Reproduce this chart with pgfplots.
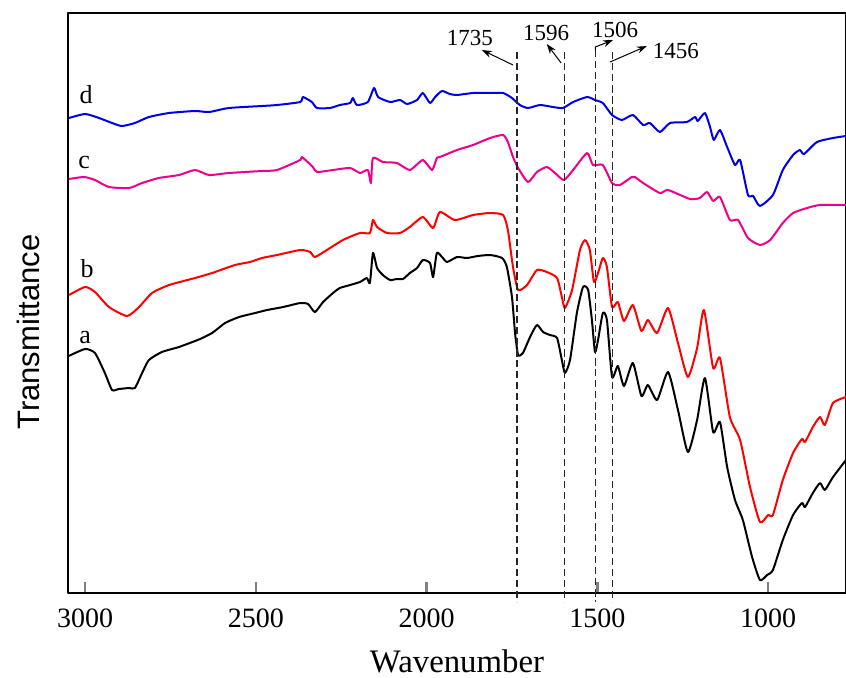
\documentclass[border=0pt]{standalone}
\usepackage{fontspec}
\setmainfont{Liberation Serif}
\newfontfamily\arialfont{Liberation Sans}
\usepackage{pgfplots}
\pgfplotsset{compat=1.18}
\usetikzlibrary{arrows.meta}

\begin{document}
\begin{tikzpicture}
\begin{axis}[
   scale only axis,
   width=389pt, height=290pt,
   x dir=reverse,
   xmin=772, xmax=3050,
   ymin=0, ymax=580,
   clip=false,
   axis line style={line width=1.1pt},
   xtick={1000,1500,2000,2500,3000},
   xtick pos=bottom,
   xtick align=inside,
   major tick length=5.5pt,
   major tick style={line width=1.2pt},
   ytick=\empty,
   xticklabel style={font=\fontsize{14}{16}\selectfont, anchor=base, yshift=-17pt,
      /pgf/number format/1000 sep={}, /pgf/number format/assume math mode=true},
   xlabel={Wavenumber},
   xlabel style={font=\fontsize{16.4}{18}\selectfont, at={(axis description cs:0.5,0)},
      anchor=base, yshift=-39.5pt},
   ylabel={Transmittance},
   ylabel style={font=\arialfont\fontsize{15.5}{17}\selectfont,
      at={(axis description cs:-0.0514,0.45)}, anchor=center},
   line join=round,
   every axis plot post/.append style={smooth, tension=0.35},
]
%% a
\addplot[black, line width=1pt] coordinates {
 (3048,237) (3000,244) (2971,240) (2942,220) (2921,203) (2901,204) (2871,205) (2854,205)
 (2833,220) (2813,233) (2775,241) (2725,246) (2678,252) (2663,254) (2628,260) (2590,270)
 (2549,276) (2502,280) (2467,283) (2420,286) (2370,290) (2347,289) (2327,281) (2303,291)
 (2274,300) (2254,305) (2224,308) (2195,311) (2175,315) (2166,310) (2157,340) (2145,325)
 (2128,318) (2107,313) (2087,314) (2069,314) (2049,320) (2028,325) (2011,333) (1990,330)
 (1981,316) (1970,340) (1955,336) (1940,331) (1911,336) (1882,335) (1850,337) (1814,338)
 (1779,335) (1765,326) (1750,296) (1741,260) (1732,238) (1718,240) (1697,256) (1677,268)
 (1659,261) (1639,258) (1618,255) (1604,233) (1595,220) (1580,233) (1560,280) (1542,306)
 (1527,303) (1516,273) (1507,241) (1498,253) (1484,280) (1472,273) (1457,216) (1440,227)
 (1422,207) (1396,230) (1371,197) (1352,208) (1325,193) (1293,221) (1264,183) (1235,141)
 (1208,173) (1185,215) (1161,161) (1141,171) (1120,126) (1097,93) (1074,73) (1047,36)
 (1024,13) (1003,18) (986,23) (957,53) (927,78) (901,90) (892,86) (869,100) (848,110)
 (834,103) (810,116) (772,133)};
%% b
\addplot[red, line width=1pt] coordinates {
 (3047,298) (3000,306) (2971,301) (2930,286) (2877,277) (2842,286) (2804,300) (2754,308)
 (2678,315) (2628,320) (2561,328) (2517,331) (2482,335) (2438,338) (2370,343) (2341,341)
 (2327,336) (2292,343) (2245,353) (2195,360) (2166,360) (2157,373) (2145,366) (2116,360)
 (2078,360) (2049,366) (2011,376) (1981,365) (1961,381) (1917,373) (1864,378) (1814,380)
 (1776,378) (1762,363) (1747,326) (1732,303) (1706,308) (1677,323) (1648,321) (1618,315)
 (1604,296) (1595,285) (1574,303) (1551,343) (1536,353) (1522,343) (1510,311) (1498,320)
 (1484,335) (1472,326) (1457,286) (1440,291) (1422,272) (1396,288) (1371,262) (1352,273)
 (1325,260) (1293,285) (1264,250) (1235,216) (1208,245) (1188,283) (1161,225) (1141,235)
 (1112,176) (1082,153) (1053,106) (1024,71) (1000,78) (986,78) (957,113) (927,140)
 (901,154) (892,151) (869,166) (848,176) (834,168) (810,190) (772,196)};
%% c
\addplot[magenta, line width=1pt] coordinates {
 (3047,414) (3003,416) (2971,413) (2930,406) (2871,405) (2833,410) (2784,415) (2725,418)
 (2678,423) (2637,418) (2579,420) (2482,422) (2438,423) (2370,433) (2365,436) (2333,426)
 (2321,421) (2274,423) (2224,425) (2195,420) (2172,423) (2163,410) (2157,435) (2128,431)
 (2087,430) (2049,423) (2011,433) (1984,423) (1970,435) (1961,436) (1911,443) (1864,448)
 (1814,455) (1776,458) (1762,451) (1747,436) (1732,425) (1703,411) (1677,421) (1648,426)
 (1624,420) (1598,413) (1571,423) (1530,440) (1513,428) (1484,428) (1457,410) (1434,408)
 (1399,416) (1390,416) (1366,410) (1317,400) (1293,403) (1229,394) (1200,395) (1179,401)
 (1161,392) (1141,396) (1112,373) (1088,373) (1059,355) (1024,348) (994,353) (957,370)
 (927,380) (886,385) (848,388) (772,388)};
%% d
\addplot[blue!90!black, line width=1pt] coordinates {
 (3047,475) (3000,479) (2959,475) (2921,470) (2892,467) (2854,470) (2813,476) (2754,480)
 (2678,482) (2637,481) (2579,485) (2482,487) (2438,488) (2370,491) (2362,496) (2336,491)
 (2321,485) (2283,485) (2254,488) (2224,490) (2216,495) (2204,488) (2172,491) (2154,505)
 (2142,496) (2107,491) (2078,493) (2057,489) (2028,493) (2011,500) (1990,490) (1975,496)
 (1955,502) (1932,499) (1911,498) (1864,500) (1814,500) (1776,500) (1750,495) (1727,488)
 (1703,485) (1668,488) (1630,486) (1601,485) (1571,491) (1530,496) (1507,493) (1484,490)
 (1457,478) (1428,473) (1396,478) (1366,468) (1346,470) (1317,461) (1287,470) (1238,471)
 (1214,476) (1206,472) (1185,480) (1170,466) (1159,453) (1141,463) (1120,446) (1097,428)
 (1082,433) (1059,398) (1044,397) (1024,387) (986,398) (957,423) (927,438) (907,443)
 (895,439) (857,451) (810,455) (772,457)};
%% marker lines
\addplot[black!85, sharp plot, line width=0.75pt, dash pattern=on 3.5pt off 2pt] coordinates {(1735,541) (1735,-9)};
\addplot[black!85, sharp plot, line width=0.75pt, dash pattern=on 3.5pt off 2pt] coordinates {(1596,541) (1596,-9)};
\addplot[black!85, sharp plot, line width=0.75pt, dash pattern=on 3.5pt off 2pt] coordinates {(1506,543) (1506,-9)};
\addplot[black!85, sharp plot, line width=0.75pt, dash pattern=on 3.5pt off 2pt] coordinates {(1456,541) (1456,-9)};
%% annotations
\begin{scope}[font=\fontsize{11.5}{13}\selectfont]
\draw[line width=0.5pt, -{Stealth[length=5pt,width=3.5pt]}] (axis cs:1747,528) -- (axis cs:1838,543);
\node at (axis cs:1873,555) {1735};
\draw[line width=0.5pt, -{Stealth[length=5pt,width=3.5pt]}] (axis cs:1606,530) -- (axis cs:1648,549);
\node at (axis cs:1650,560) {1596};
\draw[line width=0.5pt, -{Stealth[length=5pt,width=3.5pt]}] (axis cs:1506,543) -- (axis cs:1506,546) -- (axis cs:1454,553);
\node at (axis cs:1448,563) {1506};
\draw[line width=0.5pt, -{Stealth[length=5pt,width=3.5pt]}] (axis cs:1463,531) -- (axis cs:1355,547);
\node at (axis cs:1270,542) {1456};
\end{scope}
\begin{scope}[font=\fontsize{13}{15}\selectfont]
\node[anchor=base] at (axis cs:2997,490) {d};
\node[anchor=base] at (axis cs:3003,425) {c};
\node[anchor=base] at (axis cs:2994,316) {b};
\node[anchor=base] at (axis cs:3000,250) {a};
\end{scope}
\end{axis}
\pgfresetboundingbox
\path ([xshift=-34pt,yshift=-42pt]current axis.south west) rectangle ([yshift=6.5pt]current axis.north east);
\end{tikzpicture}
\end{document}
